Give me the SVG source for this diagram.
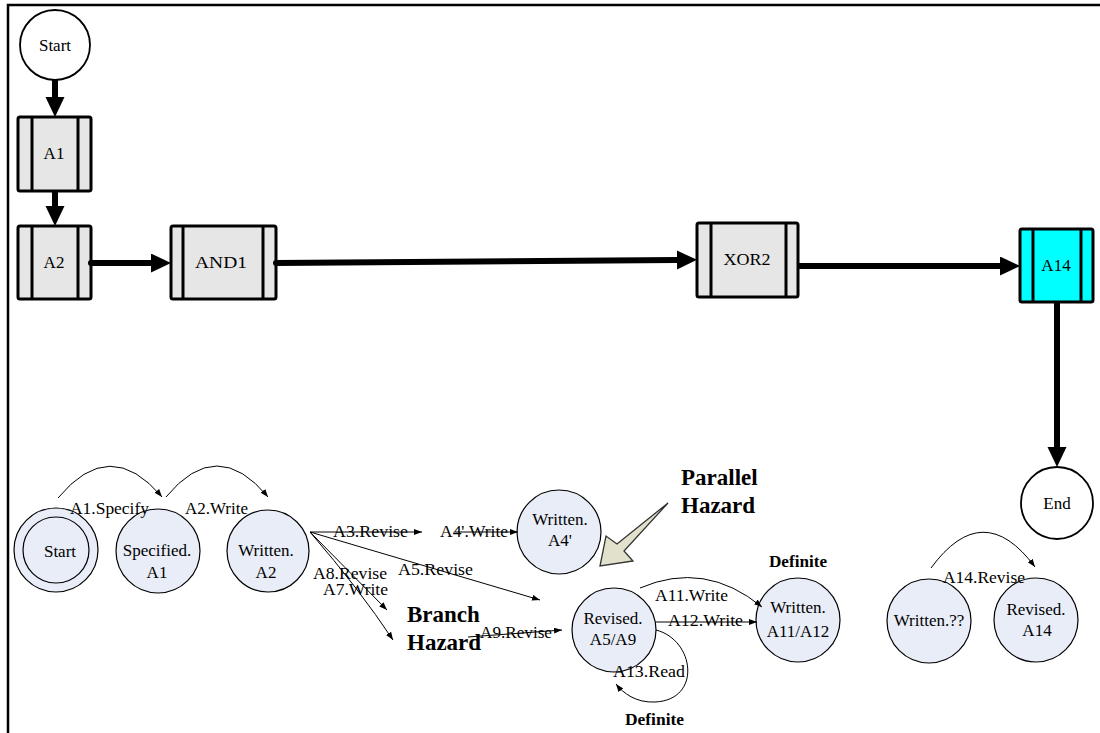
<svg xmlns="http://www.w3.org/2000/svg" width="1100" height="733" viewBox="0 0 1100 733" font-family="'Liberation Serif', 'Times New Roman', serif">
  <style>
    text { font-family: "Liberation Serif", "Times New Roman", serif; fill: #000; }
    .lbl { font-size: 17px; text-anchor: middle; }
    .el { font-size: 16px; }
    .bold { font-weight: bold; }
    .task { fill: #e6e6e6; stroke: #000; stroke-width: 3; }
    .task-hi { fill: #00ffff; stroke: #000; stroke-width: 3; }
    .bar { stroke: #000; stroke-width: 3; }
    .event { fill: #fff; stroke: #000; stroke-width: 1.8; }
    .state { fill: #e8edf7; stroke: #000; stroke-width: 1.2; }
    .flow { stroke: #000; stroke-width: 6; fill: none; marker-end: url(#bigHead); }
    .trans { stroke: #000; stroke-width: 1; fill: none; marker-end: url(#smallHead); }
  </style>
  <defs>
    <marker id="bigHead" markerUnits="userSpaceOnUse" markerWidth="22" markerHeight="20" refX="0" refY="9.5" orient="auto">
      <path d="M0,0 L20,9.5 L0,19 z" fill="#000"/>
    </marker>
    <marker id="smallHead" markerUnits="userSpaceOnUse" markerWidth="9" markerHeight="7" refX="8" refY="3" orient="auto">
      <path d="M0,0 L8,3 L0,6 z" fill="#000"/>
    </marker>
  </defs>

  <!-- frame -->
  <path d="M8,733 V5 H1100" fill="none" stroke="#000" stroke-width="2.5"/>

  <!-- process flow -->
  <g id="start">
    <circle class="event" cx="55" cy="45" r="35"/>
    <text class="lbl" x="55" y="51">Start</text>
  </g>
  <g id="a1">
    <rect class="task" x="18" y="117" width="73" height="74" rx="2"/>
    <line class="bar" x1="32" y1="117" x2="32" y2="191"/>
    <line class="bar" x1="78" y1="117" x2="78" y2="191"/>
    <text class="lbl" x="54" y="159">A1</text>
  </g>
  <g id="a2">
    <rect class="task" x="18" y="226" width="73" height="73" rx="2"/>
    <line class="bar" x1="32" y1="226" x2="32" y2="299"/>
    <line class="bar" x1="78" y1="226" x2="78" y2="299"/>
    <text class="lbl" x="54" y="268">A2</text>
  </g>
  <g id="and1">
    <rect class="task" x="171" y="226" width="105" height="73" rx="2"/>
    <line class="bar" x1="183" y1="226" x2="183" y2="299"/>
    <line class="bar" x1="263" y1="226" x2="263" y2="299"/>
    <text class="lbl" x="221" y="268" textLength="52" lengthAdjust="spacingAndGlyphs">AND1</text>
  </g>
  <g id="xor2">
    <rect class="task" x="697" y="223" width="101" height="74" rx="2"/>
    <line class="bar" x1="711" y1="223" x2="711" y2="297"/>
    <line class="bar" x1="786" y1="223" x2="786" y2="297"/>
    <text class="lbl" x="747" y="265" textLength="47" lengthAdjust="spacingAndGlyphs">XOR2</text>
  </g>
  <g id="a14">
    <rect class="task-hi" x="1020" y="229" width="73" height="73" rx="2"/>
    <line class="bar" x1="1033" y1="229" x2="1033" y2="302"/>
    <line class="bar" x1="1081" y1="229" x2="1081" y2="302"/>
    <text class="lbl" x="1056" y="271">A14</text>
  </g>
  <g id="end">
    <circle class="event" cx="1057" cy="503" r="36"/>
    <text class="lbl" x="1057" y="509">End</text>
  </g>

  <g id="flow-connectors">
    <line class="flow" x1="55" y1="80" x2="55" y2="97"/>
    <line class="flow" x1="55" y1="191" x2="55" y2="206"/>
    <line class="flow" x1="91" y1="263" x2="151" y2="263"/>
    <circle cx="91" cy="263" r="3" fill="#000"/>
    <line class="flow" x1="276" y1="263" x2="677" y2="260"/>
    <circle cx="276" cy="263" r="3" fill="#000"/>
    <line class="flow" x1="798" y1="266" x2="1000" y2="266"/>
    <line class="flow" x1="1057" y1="302" x2="1057" y2="447"/>
  </g>

  <!-- artifact state machine -->
  <g id="s-start">
    <circle class="state" cx="56" cy="550" r="42"/>
    <circle class="state" cx="56" cy="550" r="33"/>
    <text class="lbl" x="60" y="557">Start</text>
  </g>
  <g id="s-specified-a1">
    <circle class="state" cx="158" cy="551" r="42"/>
    <text class="lbl" x="157" y="556">Specified.</text>
    <text class="lbl" x="157" y="578">A1</text>
  </g>
  <g id="s-written-a2">
    <circle class="state" cx="268" cy="551" r="41"/>
    <text class="lbl" x="266" y="556">Written.</text>
    <text class="lbl" x="266" y="578">A2</text>
  </g>
  <g id="s-written-a4p">
    <circle class="state" cx="559" cy="532" r="42"/>
    <text class="lbl" x="560" y="525">Written.</text>
    <text class="lbl" x="560" y="546">A4'</text>
  </g>
  <g id="s-revised-a5a9">
    <circle class="state" cx="614" cy="630" r="42"/>
    <text class="lbl" x="613" y="624">Revised.</text>
    <text class="lbl" x="613" y="645">A5/A9</text>
  </g>
  <g id="s-written-a11a12">
    <circle class="state" cx="798" cy="620" r="42"/>
    <text class="lbl" x="798" y="613">Written.</text>
    <text class="lbl" x="798" y="637">A11/A12</text>
  </g>
  <g id="s-written-unknown">
    <circle class="state" cx="929" cy="621" r="42"/>
    <text class="lbl" x="929" y="626">Written.??</text>
  </g>
  <g id="s-revised-a14">
    <circle class="state" cx="1036" cy="620" r="42"/>
    <text class="lbl" x="1036" y="615">Revised.</text>
    <text class="lbl" x="1037" y="636">A14</text>
  </g>

  <g id="transitions">
    <path class="trans" d="M58,498 Q110,435 162,497"/>
    <path class="trans" d="M166,497 Q217,435 268,497"/>
    <line class="trans" x1="310" y1="532" x2="422" y2="532"/>
    <line class="trans" x1="455" y1="532" x2="518" y2="532"/>
    <line class="trans" x1="310" y1="532" x2="540" y2="600"/>
    <line class="trans" x1="310" y1="532" x2="387" y2="610"/>
    <path class="trans" d="M310,532 Q360,590 393,640"/>
    <line class="trans" x1="468" y1="637" x2="562" y2="630"/>
    <path class="trans" d="M640,588 Q705,560 762,607"/>
    <line class="trans" x1="656" y1="622" x2="757" y2="622"/>
    <path class="trans" d="M656,630 C695,640 702,700 655,702 C636,703 623,693 616,684"/>
    <path class="trans" d="M931,568 Q983,497 1035,567"/>
  </g>

  <g id="transition-labels">
    <text class="el" x="70" y="514" textLength="79" lengthAdjust="spacingAndGlyphs">A1.Specify</text>
    <text class="el" x="185" y="514" textLength="63" lengthAdjust="spacingAndGlyphs">A2.Write</text>
    <text class="el" x="333" y="537" textLength="75" lengthAdjust="spacingAndGlyphs">A3.Revise</text>
    <text class="el" x="440" y="537" textLength="68" lengthAdjust="spacingAndGlyphs">A4'.Write</text>
    <text class="el" x="398" y="575" textLength="75" lengthAdjust="spacingAndGlyphs">A5.Revise</text>
    <text class="el" x="313" y="579" textLength="74" lengthAdjust="spacingAndGlyphs">A8.Revise</text>
    <text class="el" x="323" y="595" textLength="65" lengthAdjust="spacingAndGlyphs">A7.Write</text>
    <text class="el" x="480" y="638" textLength="72" lengthAdjust="spacingAndGlyphs">A9.Revise</text>
    <text class="el" x="655" y="601" textLength="73" lengthAdjust="spacingAndGlyphs">A11.Write</text>
    <text class="el" x="668" y="626" textLength="75" lengthAdjust="spacingAndGlyphs">A12.Write</text>
    <text class="el" x="613" y="677" textLength="72" lengthAdjust="spacingAndGlyphs">A13.Read</text>
    <text class="el" x="943" y="583" textLength="82" lengthAdjust="spacingAndGlyphs">A14.Revise</text>
  </g>

  <!-- hazard annotations -->
  <g id="branch-hazard">
    <text class="bold" font-size="23" x="407" y="622">Branch</text>
    <text class="bold" font-size="23" x="407" y="650">Hazard</text>
  </g>
  <g id="parallel-hazard">
    <polygon points="668,503 617,544 606,536 600,566 633,561 624,551" fill="#e2e2cc" stroke="#333" stroke-width="1.3" stroke-linejoin="miter"/>
    <text class="bold" font-size="23" x="681" y="485">Parallel</text>
    <text class="bold" font-size="23" x="681" y="513">Hazard</text>
  </g>
  <g id="definite-labels">
    <text class="bold" font-size="16" x="769" y="567" textLength="58" lengthAdjust="spacingAndGlyphs">Definite</text>
    <text class="bold" font-size="16" x="625" y="725" textLength="59" lengthAdjust="spacingAndGlyphs">Definite</text>
  </g>
</svg>
